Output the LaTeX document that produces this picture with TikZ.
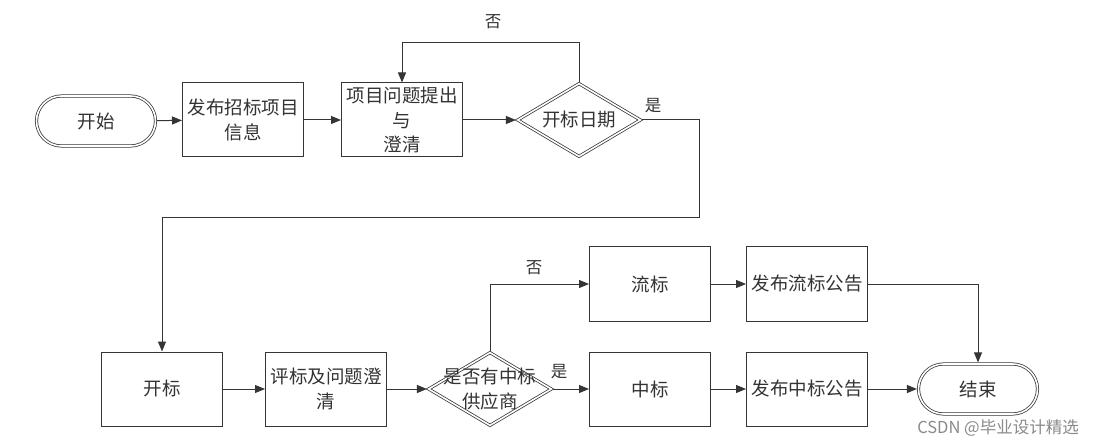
\documentclass[tikz,border=0pt]{standalone}
\usepackage{fontspec}
\setmainfont{Noto Sans CJK SC}
\usetikzlibrary{arrows.meta,shapes.geometric,shapes.misc}
\definecolor{lc}{HTML}{353535}
\definecolor{tc}{HTML}{333333}
\definecolor{wm}{HTML}{8A8A8A}
\begin{document}
\begin{tikzpicture}[x=1pt,y=-1pt,
  txt/.style={font=\fontsize{18.5}{24.5}\selectfont, text=tc, align=center},
  box/.style={txt, draw=lc, line width=1pt, minimum width=121pt, minimum height=74pt, inner sep=0pt},
  term/.style={txt, rounded rectangle, draw=lc, line width=0.75pt, double, double distance=1.6pt, minimum width=119pt, minimum height=50pt, inner sep=0pt},
  dia/.style={diamond, draw=lc, line width=0.75pt, double, double distance=1.6pt, minimum width=123pt, minimum height=73pt, inner sep=0pt},
  arr/.style={draw=lc, line width=1pt, -{Triangle[length=10pt,width=8pt]}},
  lab/.style={font=\fontsize{16.5}{20}\selectfont, text=tc}
]
\path[fill=white] (0,0) rectangle (1110,446);
\useasboundingbox (0,0) rectangle (1110,446);

% top row
\node[term] (start) at (96,121) {开始};
\node[box] (b1) at (243,120) {发布招标项目\\信息};
\node[box] (b2) at (402,120) {项目问题提出\\与\\澄清};
\node[dia] (d1) at (579,120) {};
\node[txt] (d1t) at (d1) {开标日期};

% bottom row
\node[box] (b3) at (162,389) {开标};
\node[box] (b4) at (326,389) {评标及问题澄\\清};
\node[dia] (d2) at (490,389) {};
\node[txt] (d2t) at (490,389) {是否有中标\\供应商};
\node[box] (liu) at (650,284) {流标};
\node[box] (zhong) at (650,389) {中标};
\node[box] (fl) at (807,284) {发布流标公告};
\node[box] (fz) at (807,389) {发布中标公告};
\node[term] (end) at (978,389) {结束};

\coordinate (c0) at (579,43);
\coordinate (c1) at (699,218);

% connectors
\draw[arr, shorten <=1.2pt] (start) -- (b1);
\draw[arr] (b1) -- (b2);
\draw[arr, shorten >=1.2pt] (b2) -- (d1);
\draw[arr, shorten <=1.2pt] (d1.north) -- (c0) -| (b2.north);
\draw[arr, shorten <=1.2pt] (d1.east) -| (c1) -| (b3.north);
\draw[arr] (b3) -- (b4);
\draw[arr, shorten >=1.2pt] (b4) -- (d2);
\draw[arr, shorten <=1.2pt] (d2.north) |- (liu.west);
\draw[arr, shorten <=1.2pt] (d2.east) -- (zhong.west);
\draw[arr] (liu) -- (fl);
\draw[arr] (zhong) -- (fz);
\draw[arr, shorten >=1.2pt] (fl.east) -| (end.north);
\draw[arr, shorten >=1.2pt] (fz) -- (end);

% labels
\node[lab] (no1) at (493,22) {否};
\node[lab] (yes1) at (653,106) {是};
\node[lab] (no2) at (534,268) {否};
\node[lab] (yes2) at (559,372) {是};

\node[font=\fontsize{16.5}{20}\selectfont, text=wm, anchor=east, inner sep=0pt] (wmk) at (1079,428) {CSDN @毕业设计精选};
\end{tikzpicture}
\end{document}
